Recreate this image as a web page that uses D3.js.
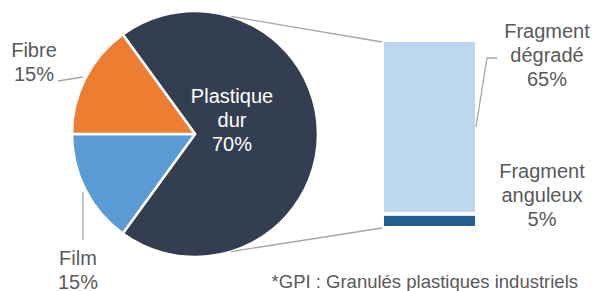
<!DOCTYPE html>
<html>
<head>
    <meta charset="utf-8">
    <script src="https://d3js.org/d3.v7.min.js"></script>
    <style>
        body, html { margin: 0; background: #fff; overflow: hidden; }
        text { font-family: "Liberation Sans", Arial, sans-serif; }
    </style>
</head>
<body>
<div id="chart"></div>
<script>
    // pie data (order = drawing order, clockwise)
    const pieCats = ["Plastique dur", "Film", "Fibre"];
    const pieValues = [70, 15, 15];
    const pieColors = ["#333f50", "#5b9bd5", "#ed7d31"];

    // bar of pie: breakdown of "Plastique dur"
    const barCats = ["Fragment dégradé", "Fragment anguleux"];
    const barValues = [65, 5];
    const barColors = ["#bdd7ee", "#245e91"];

    const footnote = "*GPI : Granulés plastiques industriels";

    const width = 597, height = 291;
    const cx = 195, cy = 134, radius = 123;
    const grey = "#595959";

    const svg = d3.select("#chart").append("svg")
        .attr("width", width)
        .attr("height", height);

    // pie
    const pie = d3.pie().sort(null).value(d => d)
        .startAngle(-0.2 * Math.PI).endAngle(1.8 * Math.PI);
    const arcs = pie(pieValues);
    const arc = d3.arc().innerRadius(0).outerRadius(radius);

    const pg = svg.append("g").attr("transform", `translate(${cx},${cy})`);
    pg.selectAll("path").data(arcs).join("path")
        .attr("d", arc)
        .attr("fill", (d, i) => pieColors[i])
        .attr("stroke", "#fff")
        .attr("stroke-width", 2.5)
        .attr("stroke-linejoin", "round");

    // stacked bar
    const total = d3.sum(barValues);
    const y = d3.scaleLinear().domain([0, total]).range([42, 226]);
    const x = d3.scaleBand().domain(["bar"]).range([384, 475]).padding(0);
    let acc = 0;
    const stack = barValues.map(v => { const s = { y0: acc, y1: acc + v }; acc += v; return s; });

    svg.selectAll("rect.seg").data(stack).join("rect")
        .attr("class", "seg")
        .attr("x", x("bar"))
        .attr("width", x.bandwidth())
        .attr("y", (d, i) => y(d.y0) + (i > 0 ? 3 : 0))
        .attr("height", (d, i) => y(d.y1) - y(d.y0) - (i > 0 ? 3 : 1))
        .attr("fill", (d, i) => barColors[i]);

    // connector lines from pie to bar
    const a = 0.095 * Math.PI;
    const conn = [
        [[cx + radius * Math.sin(a), cy - radius * Math.cos(a)], [x("bar") - 2, y(0)]],
        [[cx + radius * Math.sin(a), cy + radius * Math.cos(a)], [x("bar") - 2, y(total) + 2]]
    ];
    svg.selectAll("line.conn").data(conn).join("line")
        .attr("class", "conn")
        .attr("x1", d => d[0][0]).attr("y1", d => d[0][1])
        .attr("x2", d => d[1][0]).attr("y2", d => d[1][1])
        .attr("stroke", "#a6a6a6").attr("stroke-width", 1.3);

    // leader lines
    const leaders = [
        [[58, 81], [83, 77]],
        [[83, 192], [83, 240]],
        [[497, 58], [487, 58], [476, 127]]
    ];
    svg.selectAll("path.leader").data(leaders).join("path")
        .attr("class", "leader")
        .attr("d", d3.line())
        .attr("fill", "none")
        .attr("stroke", "#a6a6a6").attr("stroke-width", 1.3);

    // labels
    function label(lines, lx, ly, color, anchor) {
        const t = svg.append("text")
            .attr("x", lx).attr("y", ly)
            .attr("fill", color)
            .attr("font-size", 20)
            .attr("text-anchor", anchor || "middle");
        lines.forEach((s, i) => {
            t.append("tspan").attr("x", lx).attr("dy", i ? 24 : 0).text(s);
        });
    }
    label(["Plastique", "dur", pieValues[0] + "%"], 232, 103, "#fff");
    label(["Fibre", pieValues[2] + "%"], 34, 57, grey);
    label(["Film", pieValues[1] + "%"], 78, 265, grey);
    label(["Fragment", "dégradé", barValues[0] + "%"], 547, 38, grey);
    label(["Fragment", "anguleux", barValues[1] + "%"], 542, 178, grey);

    svg.append("text")
        .attr("x", 578).attr("y", 288)
        .attr("text-anchor", "end")
        .attr("fill", grey)
        .attr("font-size", 18.5)
        .text(footnote);
</script>
</body>
</html>
